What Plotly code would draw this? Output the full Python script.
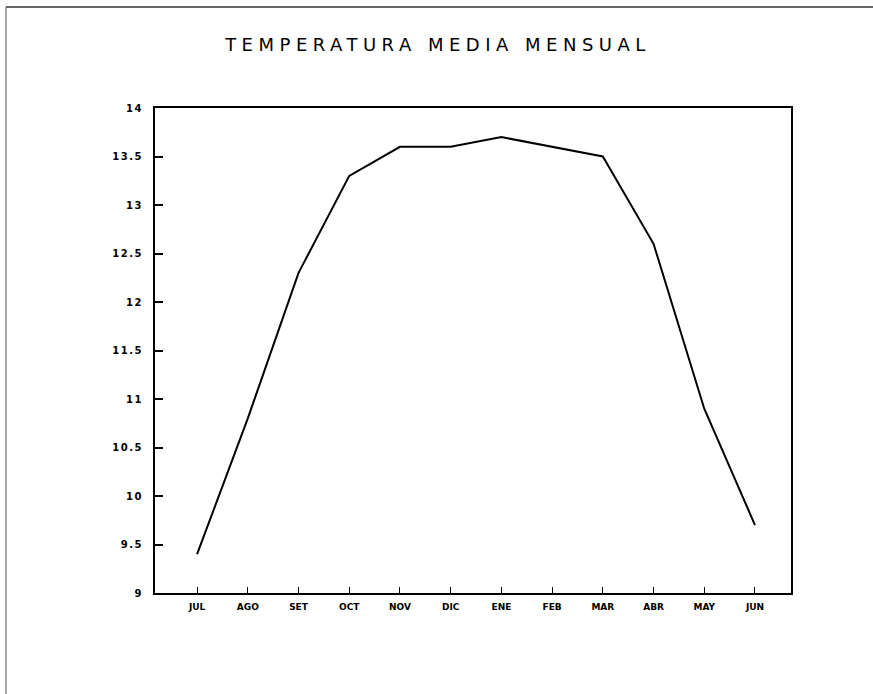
import plotly.graph_objects as go

months = ["JUL", "AGO", "SET", "OCT", "NOV", "DIC", "ENE", "FEB", "MAR", "ABR", "MAY", "JUN"]
temperature = [9.4, 10.8, 12.3, 13.3, 13.6, 13.6, 13.7, 13.6, 13.5, 12.6, 10.9, 9.7]
y_ticks = [9, 9.5, 10, 10.5, 11, 11.5, 12, 12.5, 13, 13.5, 14]
y_tick_text = ["9", "9.5", "10", "10.5", "11", "11.5", "12", "12.5", "13", "13.5", "14"]
title_text = "TEMPERATURA MEDIA MENSUAL"

W, H = 873, 694
L, R, T, B = 155, 82, 108, 101
pw, ph = W - L - R, H - T - B

def px(x):
    return (x - L) / pw

def py(y):
    return (H - B - y) / ph

fig = go.Figure()
fig.add_trace(go.Scatter(
    x=list(range(len(months))), y=temperature, mode="lines",
    line=dict(color="black", width=2), showlegend=False, hoverinfo="skip",
))

fig.update_layout(
    width=W, height=H,
    margin=dict(l=L, r=R, t=T, b=B),
    paper_bgcolor="white", plot_bgcolor="white",
    title=dict(text=title_text, x=438 / W, y=1 - 45 / H, xref="container",
               yref="container", xanchor="center", yanchor="middle",
               font=dict(family="DejaVu Sans", size=18, color="black")),
    xaxis=dict(
        range=[-0.83, 11.71], tickmode="array", tickvals=list(range(len(months))),
        ticktext=months, ticks="inside", ticklen=6, tickwidth=1, tickcolor="black",
        showline=True, linecolor="black", linewidth=2, mirror=True,
        showgrid=False, zeroline=False,
        tickfont=dict(family="DejaVu Sans", size=9, color="black", weight="bold"),
        ticklabelstandoff=4,
    ),
    yaxis=dict(
        range=[9, 14], tickmode="array", tickvals=y_ticks, ticktext=y_tick_text,
        ticks="inside", ticklen=8, tickwidth=2, tickcolor="black",
        showline=True, linecolor="black", linewidth=2, mirror=True,
        showgrid=False, zeroline=False,
        tickfont=dict(family="DejaVu Sans", size=10, color="black", weight="bold"),
        ticklabelstandoff=8,
    ),
)

# outer page frame (top and left edges)
fig.add_shape(type="line", xref="paper", yref="paper",
              x0=px(6), x1=px(873), y0=py(7), y1=py(7),
              line=dict(color="#333333", width=1.5))
fig.add_shape(type="line", xref="paper", yref="paper",
              x0=px(6), x1=px(6), y0=py(7), y1=py(694),
              line=dict(color="#555555", width=1))

post = """
document.body.style.margin = '0';
var t = document.querySelector('.gtitle');
if (t) { t.style.letterSpacing = '5.5px'; }
document.querySelectorAll('.ytick text').forEach(function(e){ e.style.letterSpacing = '1.5px'; });
"""

fig.write_html("out.html", post_script=post, config={"displayModeBar": False})
